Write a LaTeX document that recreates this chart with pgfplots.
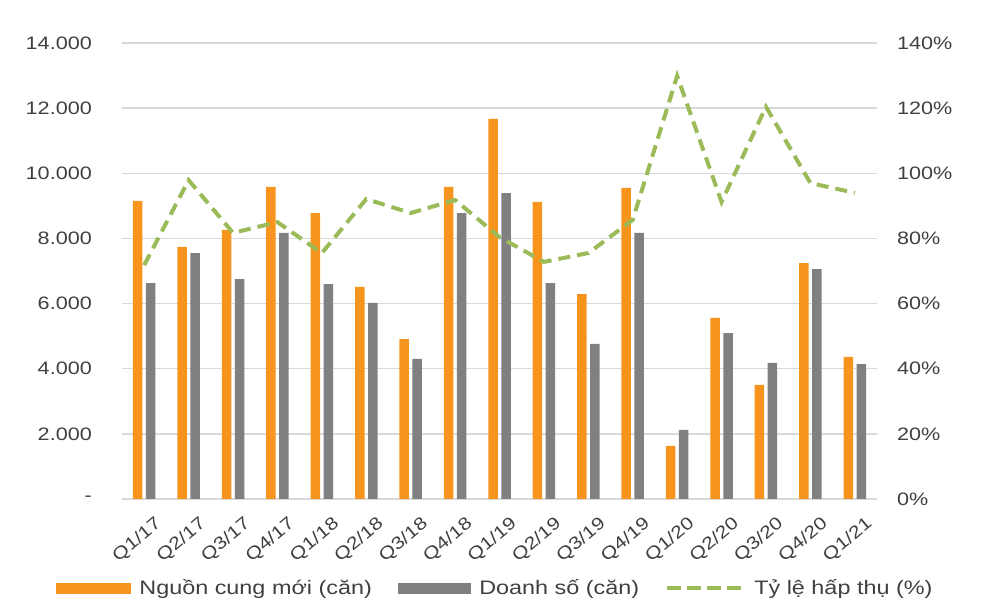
\documentclass[border=0pt]{standalone}
\usepackage{pgfplots}
\usepackage{pgfplotstable}
\pgfplotsset{compat=1.18}
\usepackage{fontspec}
\setmainfont{Liberation Sans}[FakeStretch=1.2]
\definecolor{cOrange}{HTML}{F7941D}
\definecolor{cGray}{HTML}{808083}
\definecolor{cGreen}{HTML}{9BBB59}
\definecolor{cGrid}{HTML}{D9D9D9}
\definecolor{cText}{HTML}{404040}

\pgfplotstableread{
x supply sales rate
0  9150 6630 71.8
1  7740 7550 97.9
2  8260 6750 81.7
3  9580 8170 85.0
4  8780 6600 75.5
5  6510 6020 92.1
6  4910 4300 87.8
7  9580 8780 91.8
8  11670 9390 80.4
9  9120 6630 72.8
10 6290 4760 75.5
11 9550 8170 85.7
12 1630 2120 129.9
13 5560 5090 91.2
14 3500 4180 120.4
15 7240 7060 97.0
16 4360 4140 94.0
}\datatable

\begin{document}
\fontsize{18}{21}\selectfont
\begin{tikzpicture}
\path[use as bounding box] (0,0) rectangle (1001pt,615pt);
\begin{axis}[
  at={(122pt,116pt)}, anchor=south west,
  width=755pt, height=456pt, scale only axis,
  xmin=-0.5, xmax=16.5, ymin=0, ymax=14000,
  scaled y ticks=false,
  axis line style={draw=none},
  major tick length=0pt,
  ymajorgrids, grid style={cGrid, line width=1.5pt},
  ytick={0,2000,4000,6000,8000,10000,12000,14000},
  yticklabels={-\hspace{13pt},2.000,4.000,6.000,8.000,10.000,12.000,14.000},
  yticklabel style={anchor=east, inner sep=0pt, xshift=-30pt, text=cText, font=\fontsize{18}{21}\selectfont},
  xtick={0,...,16},
  xticklabels={Q1/17,Q2/17,Q3/17,Q4/17,Q1/18,Q2/18,Q3/18,Q4/18,Q1/19,Q2/19,Q3/19,Q4/19,Q1/20,Q2/20,Q3/20,Q4/20,Q1/21},
  xticklabel style={rotate=40, anchor=east, inner sep=0pt, yshift=-27pt, xshift=-3pt, text=cText, font=\fontsize{17.5}{21}\selectfont},
  ybar, bar width=9.5pt,
  clip=false,
]
\addplot[draw=none, fill=cOrange, bar shift=-6.5pt] table[x=x, y=supply] {\datatable};
\addplot[draw=none, fill=cGray, bar shift=6.5pt] table[x=x, y=sales] {\datatable};
\end{axis}
\begin{axis}[
  at={(122pt,116pt)}, anchor=south west,
  width=755pt, height=456pt, scale only axis,
  xmin=-0.5, xmax=16.5, ymin=0, ymax=140,
  axis line style={draw=none},
  major tick length=0pt,
  xtick=\empty,
  yticklabel pos=right,
  ytick={0,20,40,60,80,100,120,140},
  yticklabels={0\%,20\%,40\%,60\%,80\%,100\%,120\%,140\%},
  yticklabel style={anchor=west, inner sep=0pt, xshift=20pt, text=cText, font=\fontsize{18}{21}\selectfont},
  legend columns=3,
  legend style={at={(0.493,-0.195)}, anchor=center, draw=none, fill=none,
    font=\fontsize{19.5}{22}\selectfont, text=cText,
    nodes={inner sep=0pt},
    /tikz/every odd column/.append style={column sep=9pt},
    /tikz/every even column/.append style={column sep=26pt}},
  clip=false,
]
\addlegendimage{legend image code/.code={\fill[cOrange] (0pt,-5pt) rectangle (74pt,5pt);}}
\addlegendentry{Nguồn cung mới (căn)}
\addlegendimage{legend image code/.code={\fill[cGray] (0pt,-5pt) rectangle (72pt,5pt);}}
\addlegendentry{Doanh số (căn)}
\addplot[cGreen, line width=4pt, dash pattern=on 12pt off 7pt,
  legend image code/.code={\draw[cGreen, line width=4pt, dash pattern=on 14pt off 6pt] (0pt,0pt) -- (76pt,0pt);}]
  table[x=x, y=rate] {\datatable};
\addlegendentry{Tỷ lệ hấp thụ (\%)}
\end{axis}
\end{tikzpicture}
\end{document}
